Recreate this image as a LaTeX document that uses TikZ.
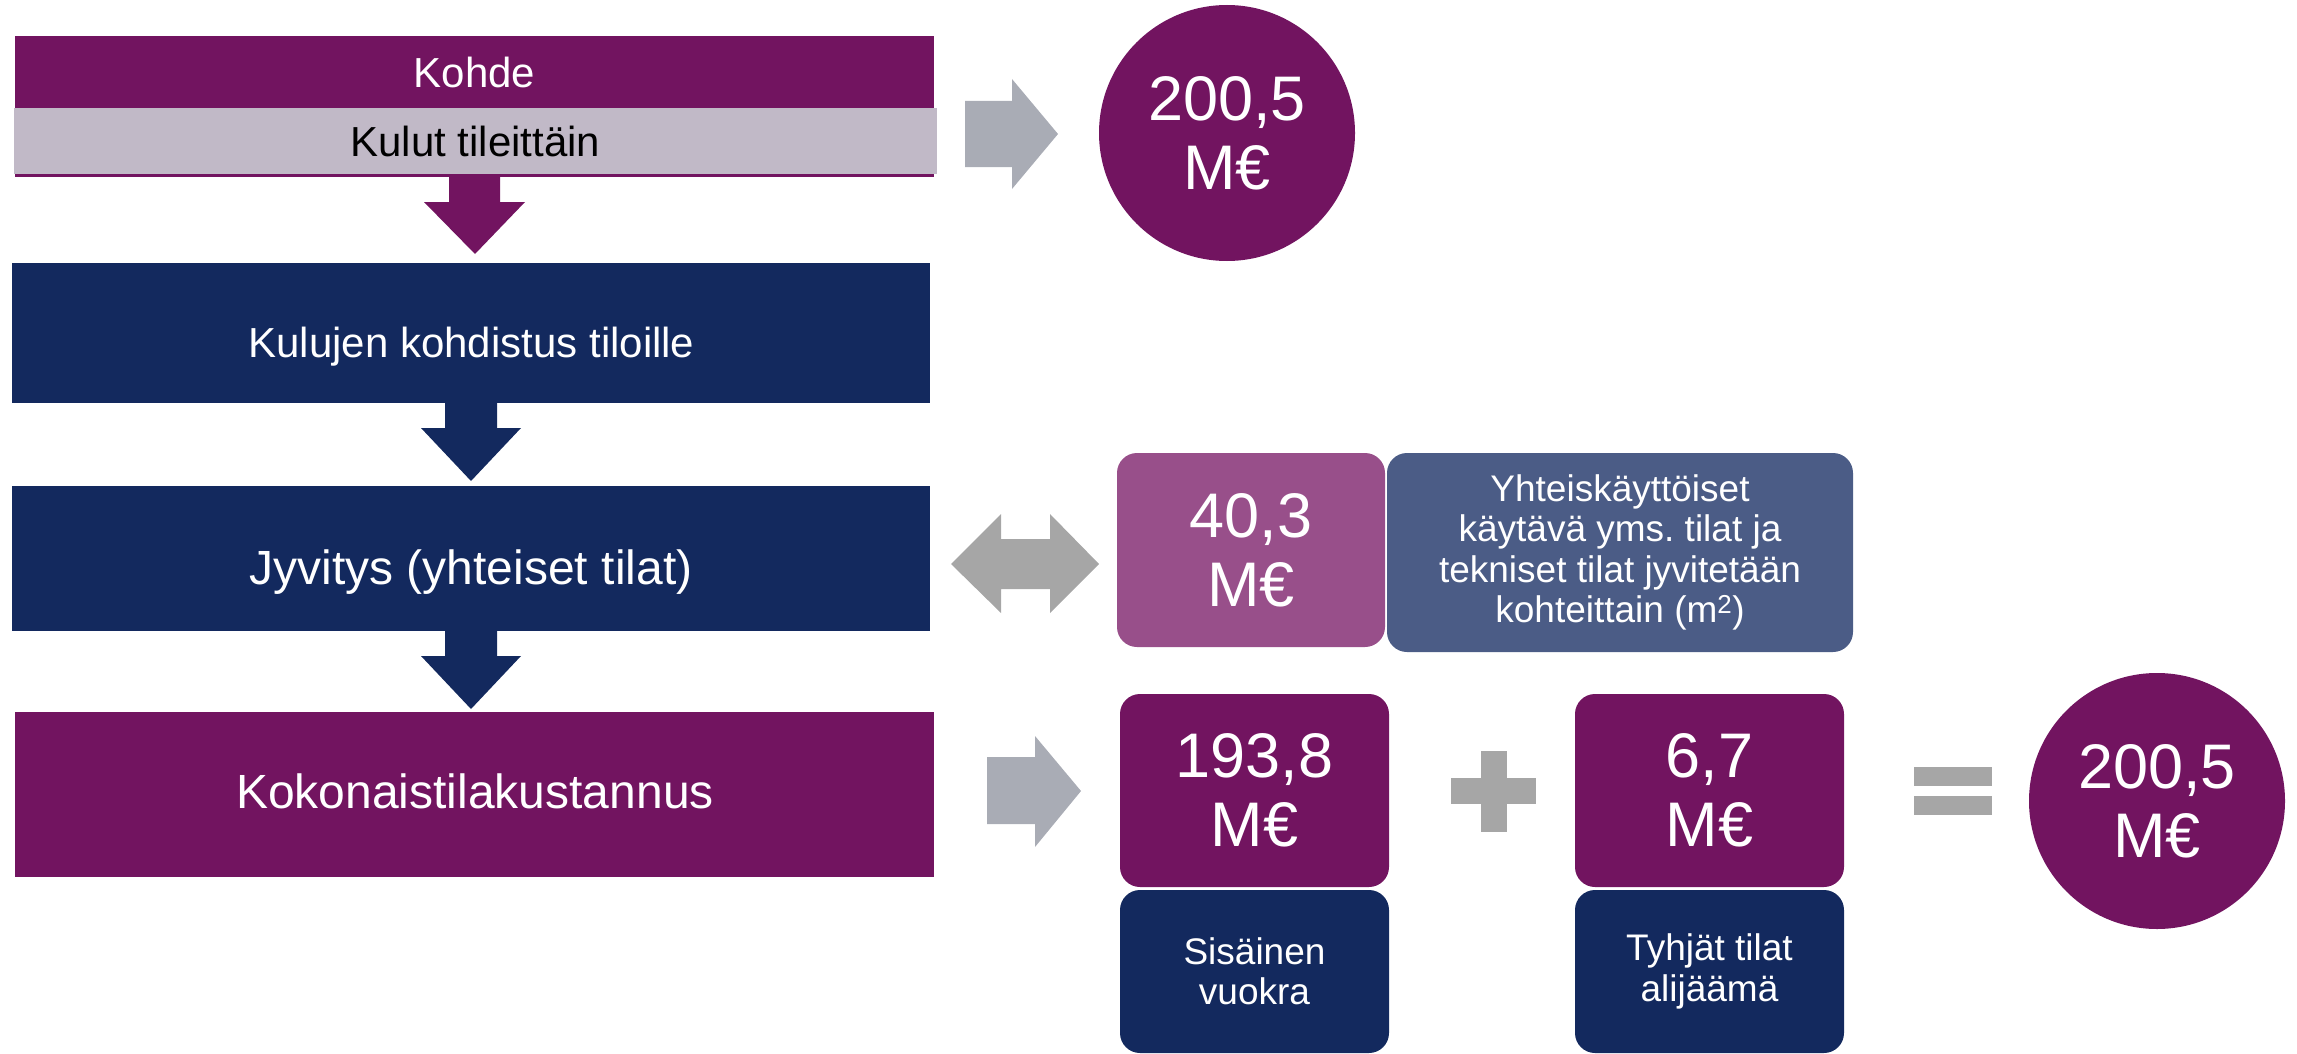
\documentclass[tikz,border=0pt]{standalone}
\usepackage{fontspec}
\setmainfont{Liberation Sans}
\usetikzlibrary{fit}
\definecolor{purp}{RGB}{114,20,96}
\definecolor{navy}{RGB}{19,41,94}
\definecolor{greyband}{RGB}{193,185,199}
\definecolor{medpurp}{RGB}{152,79,138}
\definecolor{slate}{RGB}{75,92,134}
\definecolor{arrowgrey}{RGB}{169,172,181}
\definecolor{midgrey}{RGB}{166,166,166}
\frenchspacing
\begin{document}
\begin{tikzpicture}[x=1pt,y=-1pt,
  blk/.style={rectangle, inner sep=0pt, outer sep=0pt, draw=none},
  rbox/.style={blk, rounded corners=20pt},
  wtxt/.style={text=white, inner sep=0pt, outer sep=0pt, align=center},
  fA/.style={font=\fontsize{42}{50}\selectfont},
  fB/.style={font=\fontsize{48}{56}\selectfont},
  fBig/.style={font=\fontsize{63}{69}\selectfont},
  fS/.style={font=\fontsize{37}{40.5}\selectfont},
  circ/.style={circle, fill=purp, minimum size=256pt, inner sep=0pt, text=white, align=center, font=\fontsize{63}{69}\selectfont}
]
\useasboundingbox (0,0) rectangle (2297,1054);

% top box
\node[blk, fill=purp, fit={(15,36) (934,177)}] (top) {};
\node[wtxt, fA] (kohde) at (474.5,72) {Kohde};
\node[blk, fill=greyband, minimum width=923pt, minimum height=66pt, fA, text=black] (kulut) at (475.5,141) {Kulut tileittäin};

% big boxes
\node[blk, fill=navy, fit={(12,263) (930,403)}] (kulujen) {};
\node[wtxt, fA, anchor=base] (kulujenT) at (471.5,357) {Kulujen kohdistus tiloille};
\node[blk, fill=navy, fit={(12,486) (930,631)}] (jyv) {};
\node[wtxt, fB, anchor=base] (jyvT) at (471,584) {Jyvitys (yhteiset tilat)};
\node[blk, fill=purp, fit={(15,712) (934,877)}] (kok) {};
\node[wtxt, fB, anchor=base] (kokT) at (475,808) {Kokonaistilakustannus};

% down arrows
\fill[purp] (449,177) -- (500,177) -- (500,202) -- (525,202) -- (475,254) -- (424,202) -- (449,202) -- cycle;
\fill[navy] (445,403) -- (497,403) -- (497,428) -- (521,428) -- (471,481) -- (421,428) -- (445,428) -- cycle;
\fill[navy] (445,631) -- (497,631) -- (497,656) -- (521,656) -- (471,709) -- (421,656) -- (445,656) -- cycle;

% right arrows
\fill[arrowgrey] (965,101) -- (1012,101) -- (1012,79) -- (1058,134) -- (1012,189) -- (1012,167) -- (965,167) -- cycle;
\fill[arrowgrey] (987,757) -- (1035,757) -- (1035,736) -- (1081,791) -- (1035,847) -- (1035,824) -- (987,824) -- cycle;

% double arrow
\fill[midgrey] (951,564) -- (1001,514) -- (1001,539) -- (1050,539) -- (1050,514) -- (1099,564) -- (1050,613) -- (1050,589) -- (1001,589) -- (1001,613) -- cycle;

% circles
\node[circ] (c1) at (1227,133) {200,5\\M€};
\node[circ] (c2) at (2157,801) {200,5\\M€};

% middle row boxes
\node[rbox, fill=medpurp, minimum width=268pt, minimum height=194pt, wtxt, fBig] (m403) at (1251,550) {40,3\\M€};
\node[rbox, fill=slate, minimum width=466pt, minimum height=199pt, wtxt, fS] (yht) at (1620,552.5) {Yhteiskäyttöiset\\käytävä yms. tilat ja\\tekniset tilat jyvitetään\\kohteittain (m\textsuperscript{2})};

% bottom row boxes
\node[rbox, fill=purp, minimum width=269pt, minimum height=193pt, wtxt, fBig] (m1938) at (1254.5,790.5) {193,8\\M€};
\node[rbox, fill=navy, minimum width=269pt, minimum height=163pt, wtxt, fS] (sis) at (1254.5,971.5) {Sisäinen\\vuokra};
\node[rbox, fill=purp, minimum width=269pt, minimum height=193pt, wtxt, fBig] (m67) at (1709.5,790.5) {6,7\\M€};
\node[rbox, fill=navy, minimum width=269pt, minimum height=163pt, wtxt, fS] (tyh) at (1709.5,971.5) {Tyhjät tilat\\alijäämä};

% plus and equals
\fill[midgrey] (1451,778) rectangle (1536,804);
\fill[midgrey] (1481,751) rectangle (1507,832);
\fill[midgrey] (1914,767) rectangle (1992,786);
\fill[midgrey] (1914,796) rectangle (1992,815);
\end{tikzpicture}
\end{document}
